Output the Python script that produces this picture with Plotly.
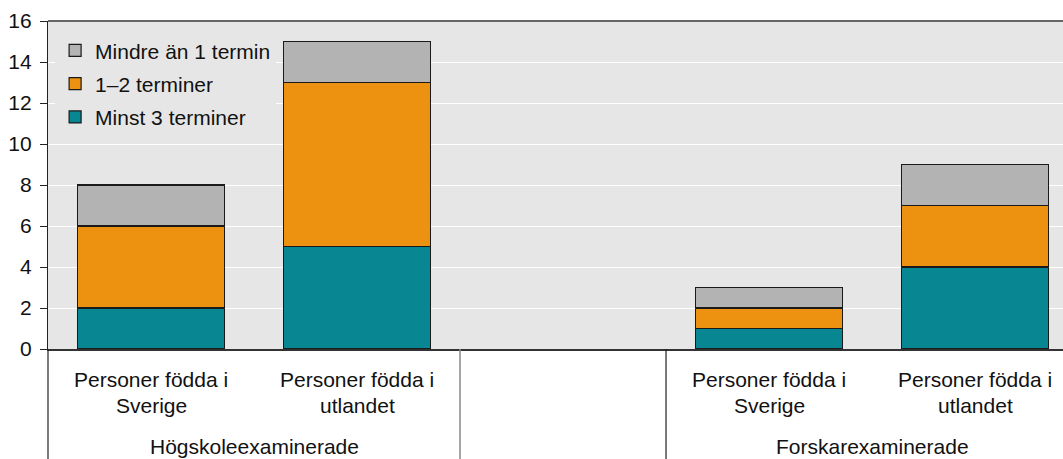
import plotly.graph_objects as go

# ---- data ----
bar_slots = [0, 1, 3, 4]                     # slot 2 is an empty spacer between groups
cat_line1 = ["Personer födda i", "Personer födda i", "Personer födda i", "Personer födda i"]
cat_line2 = ["Sverige", "utlandet", "Sverige", "utlandet"]
groups = ["Högskoleexaminerade", "Forskarexaminerade"]
group_centers = [0.5, 3.5]
dividers = [1.5, 2.5]

minst3 = [2, 5, 1, 4]
terminer12 = [4, 8, 1, 3]
mindre1 = [2, 2, 1, 2]

series = [
    ("Minst 3 terminer", minst3, "#088792", 3),
    ("1–2 terminer", terminer12, "#ED9111", 2),
    ("Mindre än 1 termin", mindre1, "#B3B3B3", 1),
]

FONT = "Liberation Sans, Arial, sans-serif"
FS = 21
W, H = 1063, 459
ML, MR, MT, MB = 48, 0, 21, 110
plot_h = H - MT - MB

fig = go.Figure()
for name, vals, col, rank in series:
    fig.add_trace(go.Bar(
        x=bar_slots, y=vals, name=name, legendgroup=name, legendrank=rank,
        marker=dict(color=col, line=dict(color="#1a1a1a", width=1.2)),
        width=0.714,
    ))

def py(pix):
    return (H - MB - pix) / plot_h

annotations = []
for s, l1, l2 in zip(bar_slots, cat_line1, cat_line2):
    annotations.append(dict(x=s, y=py(379), xref="x", yref="paper", text=l1,
                            showarrow=False, yanchor="middle", xanchor="center",
                            font=dict(family=FONT, size=FS, color="#111")))
    annotations.append(dict(x=s, y=py(405), xref="x", yref="paper", text=l2,
                            showarrow=False, yanchor="middle", xanchor="center",
                            font=dict(family=FONT, size=FS, color="#111")))
for g, c in zip(groups, group_centers):
    annotations.append(dict(x=c, y=py(446), xref="x", yref="paper", text=g,
                            showarrow=False, yanchor="middle", xanchor="center",
                            font=dict(family=FONT, size=FS, color="#111")))

shapes = [
    dict(type="line", xref="paper", yref="paper", x0=0, x1=0, y0=0, y1=py(H),
         line=dict(color="#222", width=1.2)),
    dict(type="line", xref="x", yref="paper", x0=dividers[0], x1=dividers[0], y0=0, y1=py(H),
         line=dict(color="#888", width=1.5)),
    dict(type="line", xref="x", yref="paper", x0=dividers[1], x1=dividers[1], y0=0, y1=py(H),
         line=dict(color="#222", width=1.2)),
    dict(type="line", xref="paper", yref="paper", x0=0, x1=1, y0=1, y1=1,
         line=dict(color="#666", width=2)),
]

fig.update_layout(
    width=W, height=H,
    margin=dict(l=ML, r=MR, t=MT, b=MB, pad=0),
    barmode="stack",
    plot_bgcolor="#E6E6E6", paper_bgcolor="white",
    font=dict(family=FONT, size=FS, color="#111"),
    showlegend=True,
    legend=dict(x=0.007, y=0.972, xanchor="left", yanchor="top",
                bgcolor="#E6E6E6", traceorder="grouped", tracegroupgap=3,
                font=dict(family=FONT, size=FS, color="#111")),
    annotations=annotations,
    shapes=shapes,
)
fig.update_xaxes(range=[-0.5, 4.427], showticklabels=False, showgrid=False,
                 zeroline=False, showline=True, linecolor="#333", linewidth=1.5,
                 ticks="")
fig.update_yaxes(range=[0, 16], dtick=2, tick0=0, showgrid=True, gridcolor="white",
                 gridwidth=1.2, zeroline=False, showline=True, linecolor="#222",
                 linewidth=1.2, ticks="outside", ticklen=7, tickcolor="#222",
                 ticklabelstandoff=4, tickfont=dict(family=FONT, size=FS, color="#111"))

fig.write_html("out.html", config={"displayModeBar": False},
               post_script="document.body.style.margin='0px';")
